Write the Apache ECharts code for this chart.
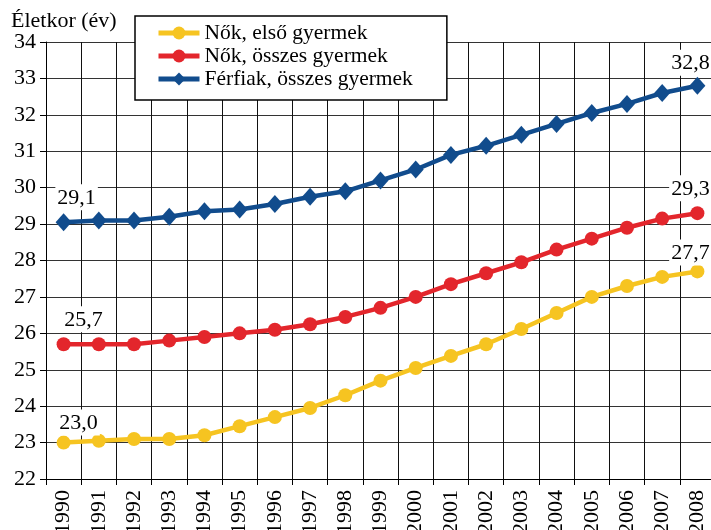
<!DOCTYPE html>
<html>
<head>
<meta charset="utf-8">
<script src="https://cdn.jsdelivr.net/npm/echarts@6/dist/echarts.min.js"></script>
<style>
  html, body { margin: 0; padding: 0; background: #fff; }
  #chart { width: 711px; height: 530px; }
</style>
</head>
<body>
<div id="chart"></div>
<script>
var years = ['1990', '1991', '1992', '1993', '1994', '1995', '1996', '1997', '1998', '1999',
  '2000', '2001', '2002', '2003', '2004', '2005', '2006', '2007', '2008']
var nokElso = [23.0, 23.05, 23.1, 23.1, 23.2, 23.45, 23.7, 23.95, 24.3, 24.7,
  25.05, 25.38, 25.7, 26.12, 26.56, 27.0, 27.3, 27.55, 27.7]
var nokOsszes = [25.7, 25.7, 25.7, 25.8, 25.9, 26.0, 26.1, 26.25, 26.45, 26.7,
  27.0, 27.35, 27.65, 27.95, 28.3, 28.6, 28.9, 29.15, 29.3]
var ferfiak = [29.05, 29.1, 29.1, 29.2, 29.35, 29.4, 29.55, 29.75, 29.9, 30.2,
  30.5, 30.9, 31.15, 31.45, 31.75, 32.05, 32.3, 32.6, 32.8]
var seriesNames = ['Nők, első gyermek', 'Nők, összes gyermek', 'Férfiak, összes gyermek']

var font = 'Liberation Serif'

// label a single point (first / last value), comma decimal
function labelled (arr, firstOffset, lastOffset) {
  return arr.map(function (v, i) {
    var off = i === 0 ? firstOffset : (i === arr.length - 1 ? lastOffset : null)
    if (!off) return v
    return {
      value: v,
      label: {
        show: true,
        position: 'top',
        offset: off,
        formatter: function (p) { return p.value.toFixed(1).replace('.', ',') },
        fontFamily: font,
        fontSize: 22,
        color: '#000',
        backgroundColor: '#fff',
        padding: [3, 2, 1, 2]
      }
    }
  })
}

var chart = echarts.init(document.getElementById('chart'))
chart.setOption({
  animation: false,
  title: {
    text: 'Életkor (év)',
    left: 11,
    top: 10,
    padding: 0,
    textStyle: { fontFamily: font, fontSize: 22, fontWeight: 'normal', color: '#000' }
  },
  legend: {
    orient: 'vertical',
    left: 135,
    top: 16,
    padding: [6, 34, 10, 21],
    backgroundColor: '#fff',
    borderColor: '#000',
    borderWidth: 1.5,
    itemWidth: 41,
    itemHeight: 16,
    itemGap: 1,
    lineStyle: { width: 5 },
    textStyle: { fontFamily: font, fontSize: 21.5, lineHeight: 22, color: '#000' },
    data: seriesNames
  },
  grid: { left: 46, right: -4, top: 42, bottom: 51, outerBoundsMode: 'none', containLabel: false },
  xAxis: {
    type: 'category',
    data: years,
    axisLine: { lineStyle: { color: '#000', width: 1 } },
    axisTick: { show: true, length: 6, lineStyle: { color: '#000' } },
    axisLabel: { rotate: 90, margin: 11, fontFamily: font, fontSize: 22, color: '#000', interval: 0 },
    splitLine: { show: true, lineStyle: { color: '#111', width: 1 } }
  },
  yAxis: {
    type: 'value',
    min: 22,
    max: 34,
    interval: 1,
    axisLine: { show: true, lineStyle: { color: '#000', width: 1 } },
    axisTick: { show: true, length: 6, lineStyle: { color: '#000' } },
    axisLabel: { margin: 10, fontFamily: font, fontSize: 22, color: '#000' },
    splitLine: { show: true, lineStyle: { color: '#333', width: 1.2 } }
  },
  series: [
    {
      name: seriesNames[0],
      type: 'line',
      data: labelled(nokElso, [15, 5], [-7, 6]),
      symbol: 'circle',
      symbolSize: 14,
      lineStyle: { color: '#F6C421', width: 4.5 },
      itemStyle: { color: '#F6C421' },
      z: 3
    },
    {
      name: seriesNames[1],
      type: 'line',
      data: labelled(nokOsszes, [20, 0], [-7, 0]),
      symbol: 'circle',
      symbolSize: 14,
      lineStyle: { color: '#E3262C', width: 4.5 },
      itemStyle: { color: '#E3262C' },
      z: 4
    },
    {
      name: seriesNames[2],
      type: 'line',
      data: labelled(ferfiak, [13, 2], [-7, 4]),
      symbol: 'diamond',
      symbolSize: [16, 18],
      lineStyle: { color: '#114C8D', width: 4.5 },
      itemStyle: { color: '#114C8D' },
      z: 5
    }
  ]
})
</script>
</body>
</html>
